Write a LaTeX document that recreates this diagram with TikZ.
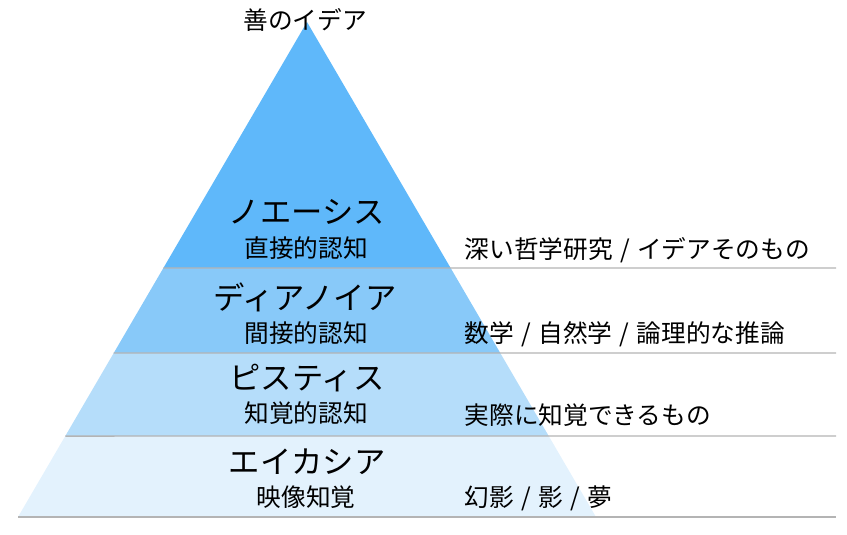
\documentclass[tikz,border=0pt]{standalone}
\usepackage{fontspec}
\setmainfont{Noto Sans CJK JP}
\usepackage{tikz}
\usetikzlibrary{calc}
\definecolor{layerA}{HTML}{5FB8FA}
\definecolor{layerB}{HTML}{88C9F9}
\definecolor{layerC}{HTML}{B5DDFA}
\definecolor{layerD}{HTML}{E3F2FD}
\definecolor{rulegray}{HTML}{B4B4B4}
\newcommand{\slsep}{\hspace{0.3em}/\hspace{0.3em}}

\begin{document}
\begin{tikzpicture}[x=0.75pt,y=-0.75pt,
	title/.style={font=\fontsize{23.5}{25}\selectfont},
	sub/.style={font=\fontsize{18.5}{20}\selectfont},
	note/.style={font=\fontsize{18.5}{20}\selectfont,anchor=west}]
			\useasboundingbox (0,0) rectangle (847,535);
			\coordinate (apex) at (307,22);
			\coordinate (bl) at (18,517);
			\coordinate (br) at (596,517);
			% layers of the pyramid
			\fill [layerD] ($(apex)!0.8364!(bl)$) -- (bl) -- (br) -- ($(apex)!0.8364!(br)$) -- cycle;
			\fill [layerC] ($(apex)!0.6687!(bl)$) -- ($(apex)!0.8364!(bl)$) -- ($(apex)!0.8364!(br)$) -- ($(apex)!0.6687!(br)$) -- cycle;
			\fill [layerB] ($(apex)!0.497!(bl)$) -- ($(apex)!0.6687!(bl)$) -- ($(apex)!0.6687!(br)$) -- ($(apex)!0.497!(br)$) -- cycle;
			\fill [layerA] (apex) -- ($(apex)!0.497!(bl)$) -- ($(apex)!0.497!(br)$) -- cycle;
			% rules
			\draw [rulegray,line width=1.1pt] ($(apex)!0.497!(bl)$) -- (836,268);
			\draw [rulegray,line width=1.1pt] ($(apex)!0.6687!(bl)$) -- (836,353);
			\draw [rulegray,line width=1.1pt] ($(apex)!0.8364!(bl)$) -- (836,436);
			\draw [rulegray,line width=1.1pt] (bl) -- (836,517);
			% labels
			\node [sub] (good) at (305,20) {善のイデア};
			\node [title] (noesis) at (307,212) {ノエーシス};
			\node [sub] (noesissub) at (306,248) {直接的認知};
			\node [title] (dianoia) at (305,297) {ディアノイア};
			\node [sub] (dianoiasub) at (306,333) {間接的認知};
			\node [title] (pistis) at (307,378) {ピスティス};
			\node [sub] (pistissub) at (306,413) {知覚的認知};
			\node [title] (eikasia) at (307,462) {エイカシア};
			\node [sub] (eikasiasub) at (306,497) {映像知覚};
			\node [note] (noesisnote) at (460,250) {深い哲学研究\slsep イデアそのもの};
			\node [note] (dianoianote) at (460,334) {数学\slsep 自然学\slsep 論理的な推論};
			\node [note] (pistisnote) at (460,415) {実際に知覚できるもの};
			\node [note] (eikasianote) at (460,498) {幻影\slsep 影\slsep 夢};
		\end{tikzpicture}
\end{document}
